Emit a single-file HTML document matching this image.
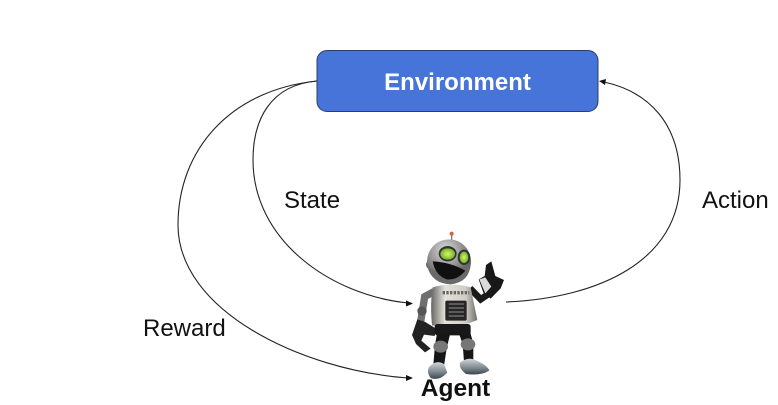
<!DOCTYPE html>
<html>
<head>
<meta charset="utf-8">
<style>
html,body{margin:0;padding:0;background:#fff;width:778px;height:405px;overflow:hidden}
svg{display:block;filter:blur(0.35px)}
text{font-family:"Liberation Sans",sans-serif}
</style>
</head>
<body>
<svg width="778" height="405" viewBox="0 0 778 405" xmlns="http://www.w3.org/2000/svg">
<defs>
<radialGradient id="head" cx="0.42" cy="0.25" r="0.85"><stop offset="0" stop-color="#dcdcdc"/><stop offset="0.5" stop-color="#8a8a8a"/><stop offset="1" stop-color="#2e2e2e"/></radialGradient>
<linearGradient id="body" x1="0" x2="1" y1="0" y2="0"><stop offset="0" stop-color="#666"/><stop offset="0.3" stop-color="#e4e2da"/><stop offset="0.75" stop-color="#cfcdc5"/><stop offset="1" stop-color="#6f6d68"/></linearGradient>
<radialGradient id="eye" cx="0.5" cy="0.5" r="0.6"><stop offset="0" stop-color="#d8f56a"/><stop offset="1" stop-color="#63a81a"/></radialGradient>
<linearGradient id="shoe" x1="0" x2="0" y1="0" y2="1"><stop offset="0" stop-color="#d2d6da"/><stop offset="0.6" stop-color="#7c868e"/><stop offset="1" stop-color="#3b444a"/></linearGradient>
</defs>

<rect x="317" y="50.5" width="281" height="61" rx="10" ry="10" fill="#4674d8" stroke="#2c3f66" stroke-width="1"/>
<text x="457.5" y="90" font-size="24" font-weight="bold" fill="#fff" text-anchor="middle">Environment</text>

<g fill="none" stroke="#222" stroke-width="1.1">
<path d="M317 81 C270 85 253 120 253 160 C253 240 330 295 408 303"/>
<path d="M317 81 C230 90 178 150 178 225 C178 310 300 370 408 378"/>
<path d="M506 302 C600 298 680 260 680 180 C680 125 650 92 604 82"/>
</g>
<g fill="#111">
<path d="M413 303.5 L406 300.5 L406 306.5 Z"/>
<path d="M413 378 L406 375 L406 381 Z"/>
<path d="M599 81 L606 79 L605 85 Z"/>
</g>

<text x="284" y="208" font-size="24" fill="#111">State</text>
<text x="702" y="208" font-size="24" fill="#111">Action</text>
<text x="143" y="336" font-size="24" fill="#111">Reward</text>

<g transform="translate(390 220) scale(0.3333)">
  <!-- antenna -->
  <line x1="185" y1="44" x2="185" y2="70" stroke="#777" stroke-width="4"/>
  <circle cx="185" cy="41" r="6" fill="#d8603a"/>
  <!-- legs -->
  <path d="M142 335 L135 375 L130 435 L162 438 L170 385 L182 335 Z" fill="#161616"/>
  <path d="M205 335 L218 372 L222 425 L250 422 L250 370 L240 335 Z" fill="#161616"/>
  <ellipse cx="152" cy="380" rx="22" ry="18" fill="#777"/>
  <ellipse cx="234" cy="373" rx="22" ry="18" fill="#777"/>
  <!-- feet -->
  <path d="M118 440 Q140 418 162 432 L172 458 Q148 484 122 474 Q108 456 118 440 Z" fill="url(#shoe)"/>
  <path d="M210 428 Q235 408 260 422 Q292 436 298 452 Q272 468 228 462 Q206 446 210 428 Z" fill="url(#shoe)"/>
  <!-- left arm -->
  <path d="M132 215 L104 230 L98 268 L92 305" fill="none" stroke="#6f6f6f" stroke-width="22"/>
  <circle cx="96" cy="273" r="14" fill="#555"/>
  <path d="M82 298 L66 345 L78 372 L105 397 L122 386 L94 362 L102 344 L134 348 L138 326 L106 306 Z" fill="#222"/>
  <!-- right arm -->
  <path d="M240 205 L272 238 L298 220" fill="none" stroke="#1a1a1a" stroke-width="20"/>
  <path d="M266 178 L284 168 L288 135 L304 124 L316 168 L342 180 L332 205 L302 236 L280 218 Z" fill="#181818"/>
  <path d="M268 178 L286 172 L304 200 L286 220 Z" fill="#d9d9d9"/>
  <!-- torso -->
  <path d="M128 202 Q185 186 242 202 L262 300 Q200 328 126 316 Q120 250 128 202 Z" fill="url(#body)"/>
  <rect x="134" y="312" width="108" height="34" rx="8" fill="#181818"/>
  <rect x="166" y="242" width="64" height="60" rx="5" fill="#262626"/>
  <path d="M176 252 H222 M176 264 H222 M176 276 H222 M176 288 H222" stroke="#5a5a5a" stroke-width="6"/>
  <path d="M158 218 H238" stroke="#666" stroke-width="10" stroke-dasharray="7 4"/>
  <!-- head -->
  <circle cx="122" cy="134" r="14" fill="#666"/>
  <ellipse cx="177" cy="125" rx="66" ry="67" fill="url(#head)"/>
  <path d="M114 146 Q178 170 242 130 Q240 186 182 193 Q128 190 114 146 Z" fill="#6a6a6a"/>
  <path d="M128 124 Q180 126 226 152 Q202 182 170 178 Q136 166 128 124 Z" fill="#101010"/>
  <ellipse cx="173" cy="101" rx="27" ry="23" fill="#333"/>
  <ellipse cx="222" cy="112" rx="19" ry="23" fill="#333"/>
  <ellipse cx="173" cy="102" rx="22" ry="17" fill="url(#eye)"/>
  <ellipse cx="222" cy="112" rx="13" ry="17" fill="url(#eye)"/>
</g>

<text x="455.5" y="396" font-size="24.5" font-weight="bold" fill="#111" text-anchor="middle">Agent</text>
</svg>
</body>
</html>
